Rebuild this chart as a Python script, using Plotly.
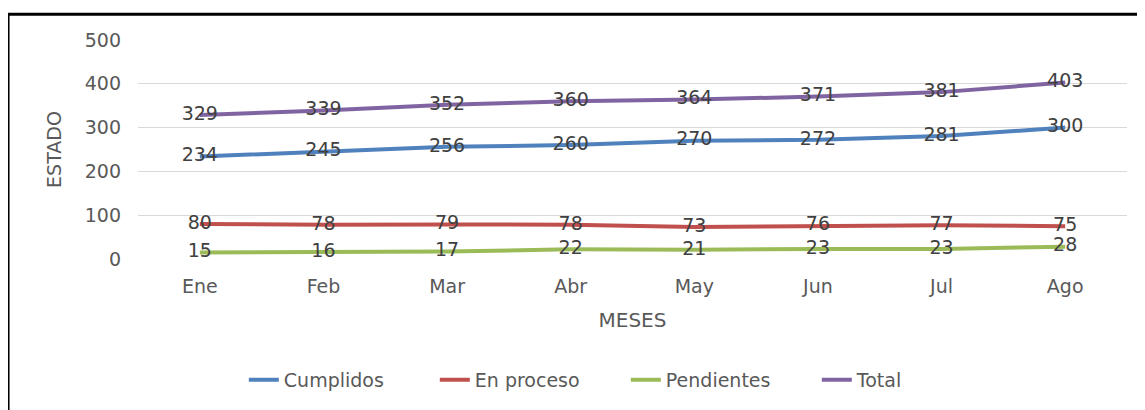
import plotly.graph_objects as go

meses = ["Ene", "Feb", "Mar", "Abr", "May", "Jun", "Jul", "Ago"]
cumplidos = [234, 245, 256, 260, 270, 272, 281, 300]
en_proceso = [80, 78, 79, 78, 73, 76, 77, 75]
pendientes = [15, 16, 17, 22, 21, 23, 23, 28]
total = [329, 339, 352, 360, 364, 371, 381, 403]

series = [
    ("Cumplidos", cumplidos, "#4F81BD"),
    ("En proceso", en_proceso, "#C0504D"),
    ("Pendientes", pendientes, "#9BBB59"),
    ("Total", total, "#8064A2"),
]

FONT = "DejaVu Sans"
GREY = "#595959"
fig = go.Figure()
for name, vals, color in series:
    fig.add_trace(go.Scatter(
        x=meses, y=vals, name=name, mode="lines+text",
        line=dict(color=color, width=4),
        text=[str(v) for v in vals], textposition="middle center",
        textfont=dict(family=FONT, size=19, color="#404040"),
        hoverinfo="skip",
    ))

fig.update_layout(
    width=1137, height=402,
    margin=dict(l=130, r=18, t=32, b=150),
    paper_bgcolor="white", plot_bgcolor="white",
    font=dict(family=FONT, size=19, color=GREY),
    xaxis=dict(
        type="category", range=[-0.5, 7.5], showgrid=False, zeroline=False,
        showline=False, ticks="", ticklabelstandoff=14,
        tickfont=dict(size=19, color=GREY),
        title=dict(text="MESES", font=dict(size=20, color=GREY), standoff=16),
        automargin=False,
    ),
    yaxis=dict(
        range=[0, 500], dtick=100, showgrid=True, gridcolor="#D9D9D9", gridwidth=1,
        zeroline=False, showline=False, ticks="", ticklabelstandoff=16,
        tickfont=dict(size=19, color=GREY),
        title=dict(text="ESTADO", font=dict(size=19, color=GREY), standoff=18),
        automargin=False,
    ),
    legend=dict(
        orientation="h", x=0.107, xanchor="left", y=-0.545, yanchor="middle",
        font=dict(size=19, color=GREY), traceorder="normal",
        entrywidth=146, entrywidthmode="pixels",
    ),
    showlegend=True,
)

# black frame (left and top edges visible)
fig.add_shape(type="line", xref="paper", yref="paper",
              x0=-0.1314, x1=-0.1314, y0=1.118, y1=-0.75,
              line=dict(color="black", width=3))
fig.add_shape(type="line", xref="paper", yref="paper",
              x0=-0.1314, x1=1.03, y0=1.118, y1=1.118,
              line=dict(color="black", width=3))

fig.write_html("out.html")
